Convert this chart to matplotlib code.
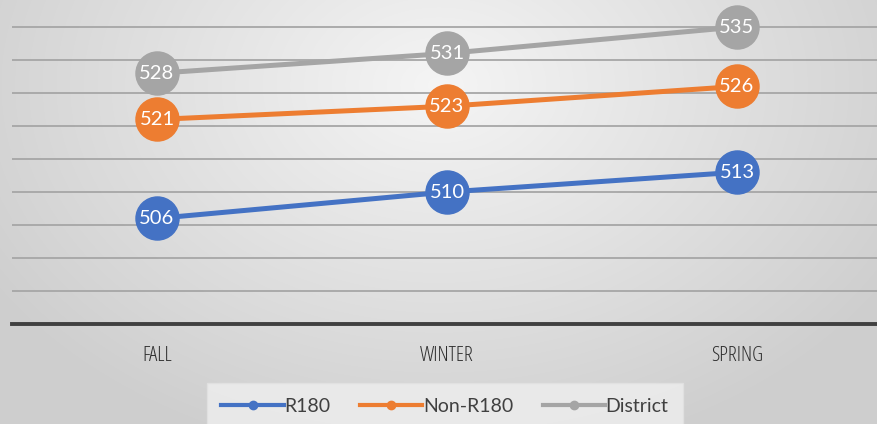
import numpy as np
import matplotlib
matplotlib.use("Agg")
import matplotlib.pyplot as plt
from matplotlib.lines import Line2D

categories = ["FALL", "WINTER", "SPRING"]
r180 = [506, 510, 513]
non_r180 = [521, 523, 526]
district = [528, 531, 535]
series_names = ["R180", "Non-R180", "District"]
colors = ["#4472C4", "#ED7D31", "#A5A5A5"]

W, H = 877, 424
fig = plt.figure(figsize=(W / 100, H / 100), dpi=100)

# background radial gradient
bg = fig.add_axes([0, 0, 1, 1])
yy, xx = np.mgrid[0:H, 0:W]
cx, cy = W * 0.5, H * 0.2
d = np.sqrt(((xx - cx) / (W * 0.6)) ** 2 + ((yy - cy) / (H * 0.9)) ** 2)
d = np.clip(d, 0, 1)
v = 0.96 - 0.15 * d
img = np.dstack([v, v, v])
bg.imshow(img, aspect="auto", extent=[0, 1, 0, 1], origin="upper")
bg.set_axis_off()
bg.set_zorder(0)

# main axes
ymin, ymax = 490, 539.1
left = 12 / W
width = 870 / W
bottom = (H - 324) / H
height = 324 / H
ax = fig.add_axes([left, bottom, width, height])
ax.set_zorder(1)
ax.patch.set_alpha(0)
ax.set_xlim(-0.5, 2.5)
ax.set_ylim(ymin, ymax)

for g in range(495, 540, 5):
    ax.axhline(g, color="#a6a6a6", lw=1.3, zorder=1)
ax.axhline(490, color="#404040", lw=2.8, zorder=2, clip_on=False)

for spine in ax.spines.values():
    spine.set_visible(False)
ax.set_yticks([])
ax.set_xticks(range(len(categories)))
ax.set_xticklabels(categories, fontsize=15, color="#2e2e2e",
                   family=["Open Sans", "DejaVu Sans"], fontstretch="condensed",
                   fontweight="normal")
ax.tick_params(axis="x", length=0, pad=16)

x = np.arange(len(categories))
for vals, c in zip([r180, non_r180, district], colors):
    ax.plot(x, vals, color=c, lw=3.6, marker="o", markersize=31,
            markerfacecolor=c, markeredgecolor=c, zorder=3, clip_on=False)
    for xi, vi in zip(x, vals):
        ax.text(xi, vi, str(vi), color="white", fontsize=14.5, ha="center",
                va="center", zorder=4, family=["Lato", "DejaVu Sans"])

handles = [Line2D([0], [0], color=c, lw=3, marker="o", markersize=6)
           for c in colors]
leg = fig.legend(handles, series_names, loc="center", ncol=3,
                 bbox_to_anchor=(445 / W, 1 - 406 / H), frameon=True,
                 handlelength=3.2, handletextpad=0.05,
                 columnspacing=1.5, borderpad=0.75,
                 prop={"family": ["Lato", "DejaVu Sans"], "size": 14})
leg.get_frame().set_facecolor("#efefef")
leg.get_frame().set_edgecolor("#e2e2e2")
leg.get_frame().set_boxstyle("square", pad=0)
for t in leg.get_texts():
    t.set_color("#404040")

fig.savefig("out.png", dpi=100)
